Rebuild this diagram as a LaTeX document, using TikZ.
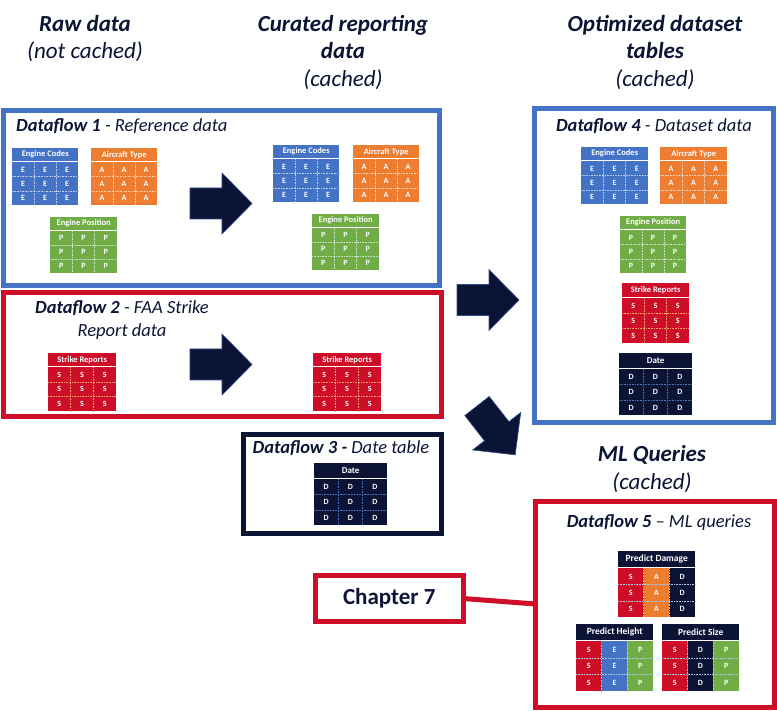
\documentclass[tikz,border=0pt]{standalone}
\usepackage{fontspec}
\setmainfont{Carlito}
\usetikzlibrary{positioning, calc}

\definecolor{dfblue}{RGB}{68,114,196}
\definecolor{dfred}{RGB}{206,14,40}
\definecolor{dforange}{RGB}{237,125,49}
\definecolor{dfgreen}{RGB}{112,173,71}
\definecolor{navy}{RGB}{12,20,54}

% 小表格:名稱, x, y, 寬, 表頭色, 標題, 欄(顏色/字母), 表身高, 格線色
\newcommand{\minitab}[9]{%
  \node[tabhead, fill=#5, minimum width=#4pt, minimum height=\headh pt] (#1) at (#2,#3) {#6};
  \foreach \c/\l [count=\i] in {#7} {
    \fill[fill=\c] ($(#1.south west)+({(\i-1)*#4/3},1)$) rectangle ++({#4/3},#8);
    \foreach \j in {1,2,3}
      \node[tabcell] (#1-\i-\j) at ($(#1.south west)+({(\i-0.5)*#4/3},{1+(\j-0.5)*#8/3})$) {\l};
  }
  \foreach \k in {1,2} {
    \draw[tabgrid, draw=#9] ($(#1.south west)+(0,{1+\k*#8/3})$) -- ++(#4,0);
    \draw[tabgrid, draw=#9] ($(#1.south west)+({\k*#4/3},1)$) -- ++(0,#8);
  }
}

% 粗箭頭(以尾端中點為原點)
\newcommand{\blockarrow}[1]{%
  \filldraw[bigarrow, #1] (0,-15.5) -- (32,-15.5) -- (32,-30.5) -- (62,0) -- (32,30.5) -- (32,15.5) -- (0,15.5) -- cycle;
}

\begin{document}
\begin{tikzpicture}[x=1pt, y=-1pt]

  % --- 定義樣式 ---
  \tikzset{
    % 外框
    flowbox/.style={
      line width=5pt,
      inner sep=0pt,
      outer sep=0pt,
      anchor=north west
    },
    % 外框標題
    dftitle/.style={
      font=\itshape\fontsize{18.5}{23}\selectfont,
      text=navy,
      inner sep=0pt
    },
    % 欄位大標題
    heading/.style={
      font=\bfseries\itshape\fontsize{23}{27.5}\selectfont,
      text=navy,
      align=center,
      inner sep=0pt
    },
    % 小表格表頭、格子、格線
    tabhead/.style={
      anchor=north west,
      inner sep=0pt,
      text=white,
      font=\bfseries\fontsize{\tabfs}{\tabfs}\selectfont
    },
    tabcell/.style={
      inner sep=0pt,
      text=white,
      font=\bfseries\fontsize{8}{8}\selectfont
    },
    tabgrid/.style={
      densely dotted,
      line width=0.6pt
    },
    bigarrow/.style={
      fill=navy,
      draw=dfblue!60!navy,
      line width=0.6pt
    },
    chapbox/.style={
      draw=dfred,
      fill=white,
      line width=5pt,
      inner sep=0pt,
      outer sep=0pt,
      minimum width=147.5pt,
      minimum height=46pt,
      text=navy,
      font=\bfseries\fontsize{23}{23}\selectfont
    }
  }

  \useasboundingbox (0,0) rectangle (777,711);

  % --- 欄位大標題 ---
  \node[heading] (raw) at (85,38.5) {Raw data\\{\mdseries (not cached)}};
  \node[heading] (curated) at (343,52.5) {Curated reporting\\data\\{\mdseries (cached)}};
  \node[heading] (optimized) at (655,52.5) {Optimized dataset\\tables\\{\mdseries (cached)}};
  \node[heading] (mlq) at (652,469) {ML Queries\\{\mdseries (cached)}};

  % --- 外框 ---
  \node[flowbox, draw=dfblue, minimum width=436.5pt, minimum height=174.5pt] (df1) at (3,111) {};
  \node[flowbox, draw=dfred, minimum width=438pt, minimum height=123.5pt] (df2) at (3,293) {};
  \node[flowbox, draw=navy, minimum width=198pt, minimum height=98.5pt] (df3) at (243,434.5) {};
  \node[flowbox, draw=dfblue, minimum width=238.5pt, minimum height=314.5pt] (df4) at (534.5,108.5) {};
  \node[flowbox, draw=dfred, minimum width=238.5pt, minimum height=206.5pt] (df5) at (535.5,501) {};

  \node[dftitle, anchor=west] (t1) at (16,126) {\textbf{Dataflow 1} - Reference data};
  \node[dftitle, align=center] (t2) at (122,320) {\textbf{Dataflow 2} - FAA Strike\\Report data};
  \node[dftitle] (t3) at (341,448) {\textbf{Dataflow 3 -} Date table};
  \node[dftitle] (t4) at (654,126) {\textbf{Dataflow 4} - Dataset data};
  \node[dftitle] (t5) at (659,523) {\textbf{Dataflow 5} -- ML queries};

  % --- Chapter 7 ---
  \coordinate (c7end) at (df5.west |- 0,604);
  \node[chapbox] (ch7) at (389.25,598.5) {Chapter 7};
  \draw[dfred, line width=5pt] (ch7.east) -- (c7end);

  % --- 粗箭頭 ---
  \blockarrow{shift={(190,203.5)}}
  \blockarrow{shift={(190,364.5)}}
  \blockarrow{shift={(457,300)}}
  \blockarrow{shift={(477,406)}, rotate=-52}

  % --- 小表格 ---
  \def\headh{13}
  \def\tabfs{8.5}
  % Dataflow 1
  \minitab{ecA}{12}{148}{66}{dfblue}{Engine Codes}{dfblue/E,dfblue/E,dfblue/E}{43}{white!65!dfblue}
  \minitab{atA}{91}{148}{66}{dforange}{Aircraft Type}{dforange/A,dforange/A,dforange/A}{43}{white!65!dforange}
  \minitab{epA}{50}{217}{67}{dfgreen}{Engine Position}{dfgreen/P,dfgreen/P,dfgreen/P}{42}{white!65!dfgreen}
  \minitab{ecB}{273}{145}{66}{dfblue}{Engine Codes}{dfblue/E,dfblue/E,dfblue/E}{43}{white!65!dfblue}
  \minitab{atB}{353}{145}{66}{dforange}{Aircraft Type}{dforange/A,dforange/A,dforange/A}{43}{white!65!dforange}
  \minitab{epB}{312}{214}{67}{dfgreen}{Engine Position}{dfgreen/P,dfgreen/P,dfgreen/P}{42}{white!65!dfgreen}
  % Dataflow 2
  \minitab{srA}{48}{353}{68}{dfred}{Strike Reports}{dfred/S,dfred/S,dfred/S}{44}{dforange!70!white}
  \minitab{srB}{313}{353}{68}{dfred}{Strike Reports}{dfred/S,dfred/S,dfred/S}{44}{dforange!70!white}
  % Dataflow 4
  \minitab{ecD}{581}{147}{67}{dfblue}{Engine Codes}{dfblue/E,dfblue/E,dfblue/E}{43}{white!65!dfblue}
  \minitab{atD}{660}{147}{67}{dforange}{Aircraft Type}{dforange/A,dforange/A,dforange/A}{43}{white!65!dforange}
  \minitab{epD}{620}{216}{66}{dfgreen}{Engine Position}{dfgreen/P,dfgreen/P,dfgreen/P}{43}{white!65!dfgreen}
  \def\headh{14}
  \minitab{srD}{622}{283}{67}{dfred}{Strike Reports}{dfred/S,dfred/S,dfred/S}{45}{dforange!70!white}
  % Date 表格
  \def\headh{15}
  \def\tabfs{9}
  \minitab{dtD}{619}{353}{73}{navy}{Date}{navy/D,navy/D,navy/D}{46}{dfblue}
  \minitab{dtC}{314}{463}{73}{navy}{Date}{navy/D,navy/D,navy/D}{46}{dfblue}
  % Dataflow 5
  \def\headh{16}
  \def\tabfs{9.5}
  \minitab{pdE}{618}{551}{77}{navy}{Predict Damage}{dfred/S,dforange/A,navy/D}{49}{white!60!dfblue}
  \minitab{phE}{576}{624}{77}{navy}{Predict Height}{dfred/S,dfblue/E,dfgreen/P}{50}{white!60!dfblue}
  \minitab{psE}{662}{624}{77}{navy}{Predict Size}{dfred/S,navy/D,dfgreen/P}{50}{white!60!dfblue}

\end{tikzpicture}
\end{document}
